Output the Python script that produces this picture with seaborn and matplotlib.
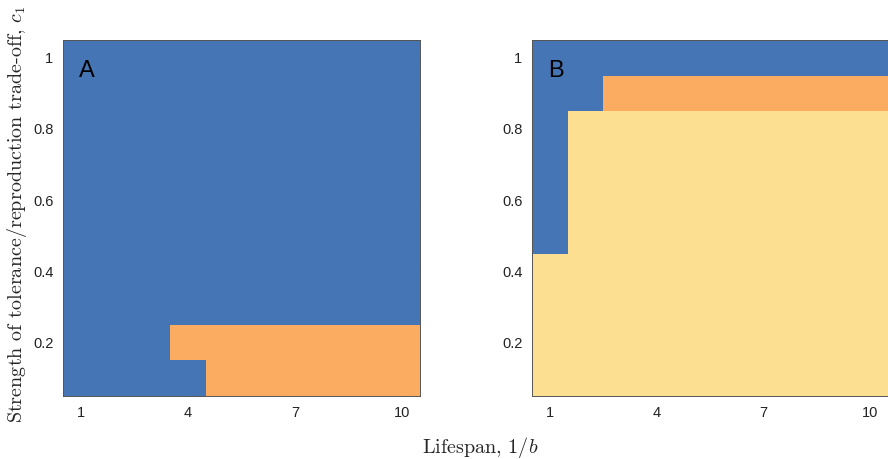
import numpy as np
import pandas as pd
import matplotlib
matplotlib.use("Agg")
import matplotlib.pyplot as plt
import seaborn as sns
from matplotlib.colors import ListedColormap

sns.set_style("white")
plt.rcParams["font.family"] = ["Liberation Sans", "DejaVu Sans"]
plt.rcParams["mathtext.fontset"] = "cm"

# Grid of parameters
lifespan = [1, 2, 3, 4, 5, 6, 7, 8, 9, 10]
c1 = [1.0, 0.9, 0.8, 0.7, 0.6, 0.5, 0.4, 0.3, 0.2, 0.1]

# Outcome class per cell: 0 = blue, 1 = orange, 2 = yellow (rows follow c1, top to bottom)
outcome_A = [
    [0, 0, 0, 0, 0, 0, 0, 0, 0, 0],
    [0, 0, 0, 0, 0, 0, 0, 0, 0, 0],
    [0, 0, 0, 0, 0, 0, 0, 0, 0, 0],
    [0, 0, 0, 0, 0, 0, 0, 0, 0, 0],
    [0, 0, 0, 0, 0, 0, 0, 0, 0, 0],
    [0, 0, 0, 0, 0, 0, 0, 0, 0, 0],
    [0, 0, 0, 0, 0, 0, 0, 0, 0, 0],
    [0, 0, 0, 0, 0, 0, 0, 0, 0, 0],
    [0, 0, 0, 1, 1, 1, 1, 1, 1, 1],
    [0, 0, 0, 0, 1, 1, 1, 1, 1, 1],
]
outcome_B = [
    [0, 0, 0, 0, 0, 0, 0, 0, 0, 0],
    [0, 0, 1, 1, 1, 1, 1, 1, 1, 1],
    [0, 2, 2, 2, 2, 2, 2, 2, 2, 2],
    [0, 2, 2, 2, 2, 2, 2, 2, 2, 2],
    [0, 2, 2, 2, 2, 2, 2, 2, 2, 2],
    [0, 2, 2, 2, 2, 2, 2, 2, 2, 2],
    [2, 2, 2, 2, 2, 2, 2, 2, 2, 2],
    [2, 2, 2, 2, 2, 2, 2, 2, 2, 2],
    [2, 2, 2, 2, 2, 2, 2, 2, 2, 2],
    [2, 2, 2, 2, 2, 2, 2, 2, 2, 2],
]

x_ticks = [1, 4, 7, 10]
y_ticks = [1.0, 0.8, 0.6, 0.4, 0.2]
y_tick_labels = ["1", "0.8", "0.6", "0.4", "0.2"]

colors = ["#4675B5", "#FCAC61", "#FDDF92"]
cmap = ListedColormap(colors)

fig = plt.figure(figsize=(8.88, 4.59), dpi=100)
W, H = 888, 459
ax_a = fig.add_axes([63 / W, 1 - 396 / H, 357 / W, 356 / H])
ax_b = fig.add_axes([532 / W, 1 - 396 / H, 356 / W, 356 / H])

for ax, data, letter in [(ax_a, outcome_A, "A"), (ax_b, outcome_B, "B")]:
    df = pd.DataFrame(data, index=c1, columns=lifespan)
    sns.heatmap(df, ax=ax, cmap=cmap, vmin=-0.5, vmax=2.5, cbar=False,
                xticklabels=False, yticklabels=False)
    ax.set_xticks([lifespan.index(v) + 0.5 for v in x_ticks])
    ax.set_xticklabels([str(v) for v in x_ticks])
    ax.set_yticks([c1.index(v) + 0.5 for v in y_ticks])
    ax.set_yticklabels(y_tick_labels)
    ax.tick_params(direction="in", length=3.5, width=0.8, color="#2a2a2a",
                   labelsize=10.5, pad=7, top=True, right=True,
                   bottom=True, left=True, labelcolor="#222222")
    ax.set_xlabel("")
    ax.set_ylabel("")
    for s in ax.spines.values():
        s.set_visible(True)
        s.set_color("#555555")
        s.set_linewidth(0.7)
    ax.text(0.045, 0.945, letter, transform=ax.transAxes, fontsize=17,
            ha="left", va="top", color="black")

fig.text(480 / W, 1 - 447 / H, r"Lifespan, $1/b$", ha="center", va="center",
         fontsize=14.5, family="cmr10")
fig.text(17 / W, 1 - 214 / H,
         r"Strength of tolerance/reproduction trade-off, $c_1$",
         ha="center", va="center", rotation=90, fontsize=14.5, family="cmr10")

fig.savefig("out.png", dpi=100)
